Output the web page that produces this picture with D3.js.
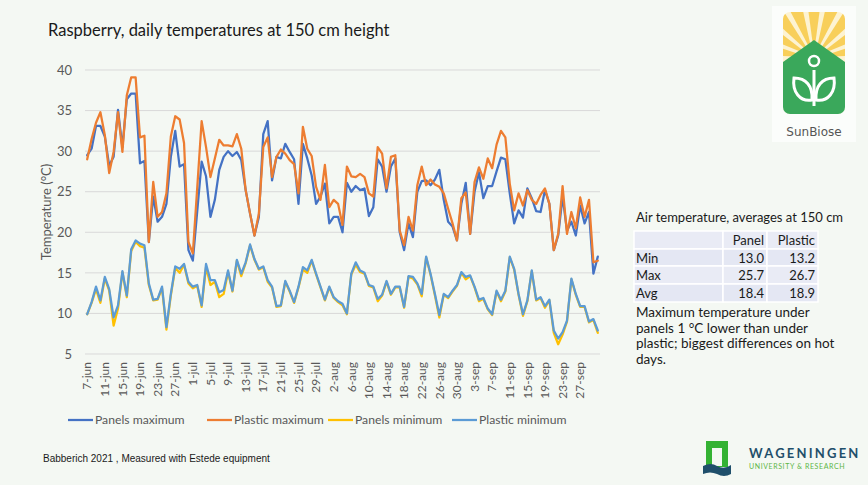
<!DOCTYPE html>
<html>
<head>
<meta charset="utf-8">
<script src="https://cdn.jsdelivr.net/npm/d3@7"></script>
<style>
  body { margin: 0; background: #f4f8f3; }
  svg { display: block; font-family: Lato, "Open Sans", sans-serif; }
</style>
</head>
<body>
<div id="chart"></div>
<script>
// daily values 7-jun .. 1-okt (117 days)
const panelsMax = [29.5,30.3,33.1,33.1,31.8,28.2,29.3,35.1,30.5,36.4,37.1,37.1,28.5,28.8,18.8,24.4,21.3,21.9,23.5,29.3,
  32.5,28.1,28.4,17.8,16.5,22.6,28.7,26.9,21.9,24.0,27.7,29.3,30.0,29.4,29.9,28.9,25.2,22.3,19.6,21.9,
  32.1,33.7,26.4,29.3,29.1,30.9,29.9,29.0,23.5,30.9,29.1,27.0,23.5,24.4,26.0,21.1,21.9,21.9,20.0,26.1,
  25.0,25.7,25.2,25.4,22.0,23.1,29.0,28.1,25.0,28.1,29.1,20.0,17.8,21.1,19.4,25.0,26.3,26.4,25.8,26.5,
  27.7,24.0,21.3,20.7,19.0,23.5,26.1,19.8,25.0,27.4,24.2,25.7,25.7,27.5,29.2,29.0,24.8,21.1,22.7,21.8,
  25.4,24.2,22.6,22.5,25.2,23.5,17.8,19.6,24.4,20.2,21.3,19.6,23.3,21.1,22.5,14.9,17.0];
const plasticMax = [29.0,31.5,33.5,34.8,32.0,27.3,29.9,34.8,29.9,36.9,39.1,39.1,31.7,31.9,18.8,26.2,21.9,22.5,24.8,31.8,
  34.3,33.9,31.0,18.8,17.4,25.5,33.7,30.5,26.8,29.1,31.4,30.7,30.7,30.6,32.1,30.3,25.2,22.3,19.6,22.3,
  30.5,31.7,26.8,29.3,30.2,29.7,28.9,28.4,24.8,33.0,30.3,29.4,25.6,24.0,28.3,23.1,24.0,23.5,20.9,28.1,
  26.9,26.8,27.2,26.8,24.8,24.4,30.5,29.7,25.4,29.3,29.5,20.2,18.4,21.9,20.2,25.8,28.1,25.8,26.5,25.9,
  25.6,24.8,22.9,21.1,19.0,24.2,24.9,19.8,26.2,28.0,26.6,29.1,27.9,30.8,32.5,31.7,26.0,22.7,24.8,23.3,
  25.2,24.0,23.5,24.6,25.4,23.5,17.8,19.8,25.7,19.8,22.5,20.5,24.3,21.9,24.0,16.3,16.5];
const panelsMin = [9.9,11.3,13.0,11.3,14.3,12.8,8.5,10.6,15.1,12.0,17.7,18.8,18.3,18.1,13.5,11.6,11.7,13.1,8.0,12.2,
  15.6,15.0,16.0,13.7,13.1,13.4,10.8,15.7,13.5,13.9,12.0,12.4,15.1,12.7,16.5,14.6,16.2,18.4,16.6,15.4,
  15.7,13.9,13.2,10.8,10.9,13.9,12.7,11.3,13.2,15.4,15.0,16.5,14.8,13.2,11.6,13.2,11.9,11.4,11.0,9.9,
  14.8,16.0,15.1,14.9,13.4,13.2,11.5,12.2,13.9,12.3,13.2,13.2,10.7,14.5,14.3,13.6,12.1,16.9,14.8,12.2,
  9.5,12.3,11.9,12.7,13.4,15.0,14.2,14.6,13.2,11.5,11.8,10.5,9.8,12.7,11.5,12.7,16.9,15.4,12.3,9.7,
  11.5,15.2,11.6,11.9,10.7,11.6,7.6,6.2,7.4,9.0,14.2,12.3,10.8,10.8,8.9,9.2,7.6];
const plasticMin = [9.9,11.4,13.3,11.6,14.5,13.0,9.5,11.0,15.2,12.2,17.9,19.0,18.6,18.4,13.7,11.7,11.8,13.3,8.3,12.4,
  15.8,15.5,16.1,13.9,13.3,13.5,11.0,16.1,14.1,14.1,12.6,12.9,15.3,12.8,16.6,14.9,16.3,18.5,16.7,15.5,
  15.8,14.1,13.3,10.9,11.0,14.0,12.8,11.4,13.3,15.7,15.3,16.6,14.9,13.3,11.7,13.3,12.0,11.5,11.2,10.0,
  14.9,16.3,15.3,15.0,13.5,13.3,11.8,12.3,14.0,12.4,13.3,13.3,10.8,14.6,14.5,13.7,12.4,17.0,14.9,12.4,
  9.8,12.4,12.0,12.8,13.5,15.1,14.5,14.7,13.3,11.7,11.9,10.6,9.9,12.8,11.7,12.8,17.0,15.5,12.4,9.9,
  11.6,15.3,11.7,12.0,10.9,11.7,7.9,6.9,7.7,9.1,14.3,12.4,10.9,10.9,9.0,9.3,7.9];

const tickLabels = ["7-jun","11-jun","15-jun","19-jun","23-jun","27-jun","1-jul","5-jul","9-jul","13-jul",
  "17-jul","21-jul","25-jul","29-jul","2-aug","6-aug","10-aug","14-aug","18-aug","22-aug","26-aug",
  "30-aug","3-sep","7-sep","11-sep","15-sep","19-sep","23-sep","27-sep"];
const yTicks = [5,10,15,20,25,30,35,40];

const seriesNames = ["Panels maximum","Plastic maximum","Panels minimum","Plastic minimum"];
const seriesColors = ["#4472c4","#ed7d31","#ffc000","#5b9bd5"];

const tableHead = ["", "Panel", "Plastic"];
const tableRows = [["Min","13.0","13.2"],["Max","25.7","26.7"],["Avg","18.4","18.9"]];
const noteLines = ["Maximum temperature under","panels 1 \u00b0C lower than under","plastic; biggest differences on hot","days."];

// category labels for every day
const months = ["jan","feb","mrt","apr","mei","jun","jul","aug","sep","okt","nov","dec"];
const days = d3.timeDay.range(new Date(2021,5,7), new Date(2021,9,2))
  .map(d => `${d.getDate()}-${months[d.getMonth()]}`);

const W = 868, H = 485;
const svg = d3.select("#chart").append("svg")
  .attr("width", W).attr("height", H);

svg.append("rect").attr("width", W).attr("height", H).attr("fill", "#f4f8f3");

// title
svg.append("text").attr("x", 48).attr("y", 36)
  .attr("font-size", 16.5).attr("fill", "#1a1a1a")
  .text("Raspberry, daily temperatures at 150 cm height");

// scales
const x = d3.scaleBand().domain(days).range([85, 600]).padding(0);
const cx = d => x(d) + x.bandwidth() / 2;
const y = d3.scaleLinear().domain([5, 40]).range([354, 70]);

// grid
svg.append("g")
  .selectAll("line")
  .data(yTicks)
  .join("line")
  .attr("x1", 85).attr("x2", 600)
  .attr("y1", d => y(d)).attr("y2", d => y(d))
  .attr("stroke", "#d9d9d9").attr("stroke-width", 1);

// y axis
const yAxis = svg.append("g")
  .attr("transform", "translate(85,0)")
  .call(d3.axisLeft(y).tickValues(yTicks).tickSize(0).tickPadding(13));
yAxis.select(".domain").remove();
yAxis.selectAll("text").attr("font-size", 13).attr("fill", "#595959")
  .attr("font-family", "Lato, sans-serif");

svg.append("text")
  .attr("transform", "translate(51,212) rotate(-90)")
  .attr("text-anchor", "middle")
  .attr("font-size", 13).attr("fill", "#595959")
  .text("Temperature (\u00b0C)");

// x axis, label every 4th day
const xAxis = svg.append("g")
  .attr("transform", "translate(0,354)")
  .call(d3.axisBottom(x).tickValues(tickLabels).tickSize(0).tickPadding(8));
xAxis.select(".domain").remove();
xAxis.selectAll("text")
  .attr("font-size", 12).attr("fill", "#595959")
  .attr("font-family", "Lato, sans-serif")
  .attr("transform", "rotate(-90)")
  .attr("text-anchor", "end")
  .attr("x", -8).attr("y", 0).attr("dy", "0.35em");

// lines
const allSeries = [panelsMax, plasticMax, panelsMin, plasticMin];
const line = d3.line().x((v, i) => cx(days[i])).y(v => y(v));

svg.append("g")
  .selectAll("path")
  .data(allSeries)
  .join("path")
  .attr("d", d => line(d))
  .attr("fill", "none")
  .attr("stroke", (d, i) => seriesColors[i])
  .attr("stroke-width", 2.25)
  .attr("stroke-linejoin", "round")
  .attr("stroke-linecap", "round");

// legend
const legendX = [68, 207, 328, 452];
const legend = svg.append("g").selectAll("g")
  .data(seriesNames)
  .join("g")
  .attr("transform", (d, i) => `translate(${legendX[i]},420)`);
legend.append("line")
  .attr("x1", 0).attr("x2", 25)
  .attr("stroke", (d, i) => seriesColors[i]).attr("stroke-width", 2.25);
legend.append("text")
  .attr("x", 27).attr("dy", "0.35em")
  .attr("font-size", 12.2).attr("fill", "#595959")
  .text(d => d);

// table of averages
svg.append("text").attr("x", 636).attr("y", 222)
  .attr("font-size", 13).attr("fill", "#1a1a1a")
  .text("Air temperature, averages at 150 cm");

const colX = [634, 723, 767, 818];
const rowY = [231, 249, 266, 284, 302];
const table = svg.append("g");
[tableHead, ...tableRows].forEach((row, r) => {
  row.forEach((cell, c) => {
    table.append("rect")
      .attr("x", colX[c]).attr("y", rowY[r])
      .attr("width", colX[c + 1] - colX[c]).attr("height", rowY[r + 1] - rowY[r])
      .attr("fill", r % 2 === 0 ? "#e9ebf5" : "#e4e7f3")
      .attr("stroke", "#ffffff").attr("stroke-width", 1.5);
    table.append("text")
      .attr("x", c === 0 ? colX[c] + 2 : colX[c + 1] - 3)
      .attr("y", rowY[r] + 13.5)
      .attr("text-anchor", c === 0 ? "start" : "end")
      .attr("font-size", 13).attr("fill", "#1a1a1a")
      .text(cell);
  });
});

svg.append("g").selectAll("text")
  .data(noteLines)
  .join("text")
  .attr("x", 636).attr("y", (d, i) => 317 + i * 15.5)
  .attr("font-size", 13.5).attr("fill", "#1a1a1a")
  .text(d => d);

// footer
svg.append("text").attr("x", 43).attr("y", 462)
  .attr("font-size", 10).attr("fill", "#1a1a1a")
  .attr("font-family", "'Liberation Sans Narrow', 'Liberation Sans', sans-serif")
  .text("Babberich 2021 , Measured with Estede equipment");

// SunBiose logo
const logo = svg.append("g");
logo.append("rect").attr("x", 772).attr("y", 6).attr("width", 84).attr("height", 136)
  .attr("fill", "#fbfdfb");
svg.append("defs").append("clipPath").attr("id", "icon")
  .append("rect").attr("x", 783).attr("y", 12).attr("width", 62).attr("height", 102).attr("rx", 7);
const icon = logo.append("g").attr("clip-path", "url(#icon)");
icon.append("rect").attr("x", 783).attr("y", 12).attr("width", 62).attr("height", 102)
  .attr("fill", "#fdf3d2");
const rays = [-80, -60, -40, -20, 0, 20, 40, 60, 80];
icon.append("g").selectAll("path")
  .data(rays)
  .join("path")
  .attr("d", a => {
    const r = Math.PI / 180, c = [814, 58];
    const p = (ang, rad) => [c[0] + rad * Math.sin(ang * r), c[1] - rad * Math.cos(ang * r)];
    const a1 = p(a - 5, 14), a2 = p(a + 5, 14), b1 = p(a + 7, 60), b2 = p(a - 7, 60);
    return `M${a1}L${a2}L${b1}L${b2}Z`;
  })
  .attr("fill", "#f8cf5a");
icon.append("path").attr("d", "M800,58 A14,14 0 0 1 828,58 Z").attr("fill", "#f8cf5a");
icon.append("path")
  .attr("d", "M783,62 L814,40 L845,62 L845,114 L783,114 Z")
  .attr("fill", "#3aa85b");
icon.append("circle").attr("cx", 814).attr("cy", 61).attr("r", 5)
  .attr("fill", "none").attr("stroke", "#fff").attr("stroke-width", 2.5);
icon.append("path").attr("d", "M814,70 L814,106").attr("stroke", "#fff").attr("stroke-width", 3);
icon.append("path").attr("d", "M812,100 C800,102 792,92 794,78 C806,78 813,86 812,100 Z")
  .attr("fill", "none").attr("stroke", "#fff").attr("stroke-width", 3);
icon.append("path").attr("d", "M816,100 C828,102 836,92 834,78 C822,78 815,86 816,100 Z")
  .attr("fill", "none").attr("stroke", "#fff").attr("stroke-width", 3);
logo.append("text").attr("x", 814).attr("y", 136).attr("text-anchor", "middle")
  .attr("font-size", 12).attr("fill", "#555").attr("font-family", "'DejaVu Sans', sans-serif")
  .text("SunBiose");

// Wageningen logo
const wur = svg.append("g");
wur.append("rect").attr("x", 706).attr("y", 441).attr("width", 22).attr("height", 26).attr("fill", "#34b233");
wur.append("rect").attr("x", 712).attr("y", 448).attr("width", 10).attr("height", 18).attr("fill", "#f4f8f3");
wur.append("path").attr("d", "M703,466 Q711,462 717,466 Q724,470 731,465 L731,474 Q724,478 717,474 Q710,471 703,474 Z")
  .attr("fill", "#1f4f6b");
wur.append("text").attr("x", 749).attr("y", 458)
  .attr("font-size", 13).attr("font-weight", "bold").attr("letter-spacing", 2.2)
  .attr("fill", "#1f4f6b").text("WAGENINGEN");
wur.append("text").attr("x", 749).attr("y", 469)
  .attr("font-size", 7).attr("letter-spacing", 0.6)
  .attr("fill", "#5db646").text("UNIVERSITY & RESEARCH");
</script>
</body>
</html>
